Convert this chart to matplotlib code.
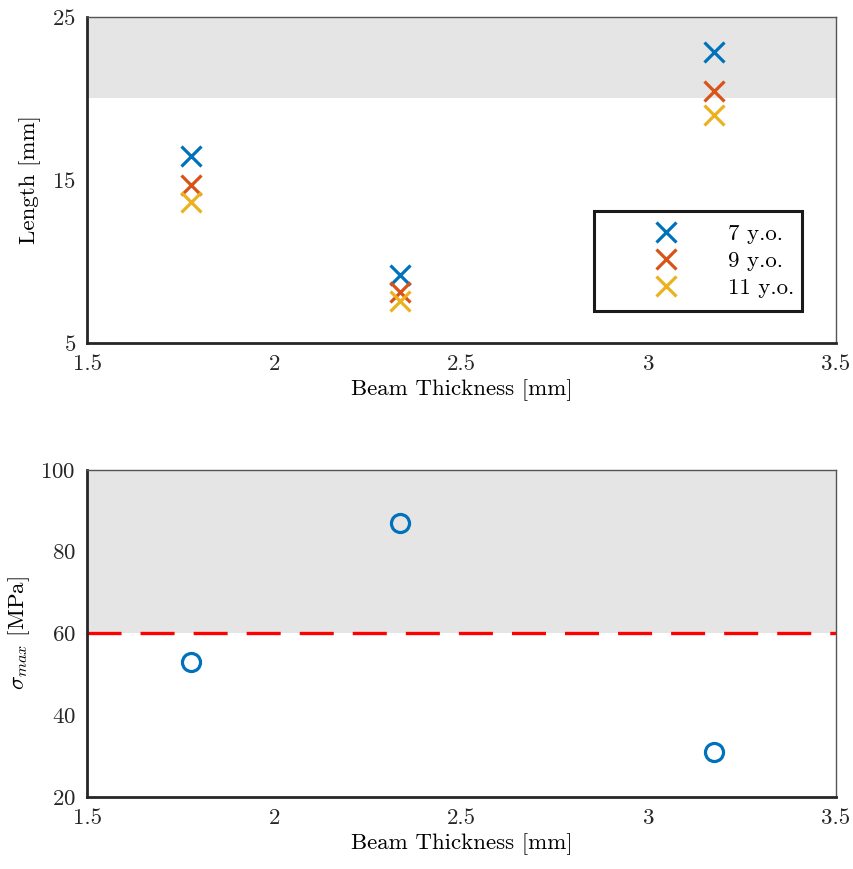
import matplotlib
matplotlib.use("Agg")
import matplotlib.pyplot as plt

plt.rcParams['font.family'] = ['cmr10', 'DejaVu Serif']
plt.rcParams['mathtext.fontset'] = 'cm'
plt.rcParams['axes.formatter.use_mathtext'] = True
plt.rcParams['font.size'] = 16.5
plt.rcParams['lines.scale_dashes'] = False

# data
thickness = [1.778, 2.337, 3.175]
length_7 = [16.5, 9.2, 22.85]
length_9 = [14.7, 8.15, 20.45]
length_11 = [13.65, 7.6, 19.0]
ages = ["7 y.o.", "9 y.o.", "11 y.o."]
sigma_max = [53, 87, 31]
sigma_limit = 60
length_limit = 20

colors = ["#0072BD", "#D95319", "#EDB120"]
gray = "#E5E5E5"

fig = plt.figure(figsize=(8.54, 8.69), dpi=100)
ax1 = fig.add_axes([0.1019, 0.6053, 0.877, 0.3752])
ax2 = fig.add_axes([0.1019, 0.0829, 0.877, 0.3763])


def style(ax):
    for side in ["top", "right"]:
        ax.spines[side].set_linewidth(1.0)
        ax.spines[side].set_color("#555555")
    for side in ["left", "bottom"]:
        ax.spines[side].set_linewidth(2.0)
        ax.spines[side].set_color("#262626")
    ax.tick_params(length=0, pad=8, colors="#262626")
    ax.set_xlim(1.5, 3.5)
    ax.set_xticks([1.5, 2, 2.5, 3, 3.5])
    ax.set_xticklabels(["1.5", "2", "2.5", "3", "3.5"])


# top: lengths
ax1.axhspan(length_limit, 25, color=gray, lw=0, zorder=0)
for vals, c, lab in zip([length_7, length_9, length_11], colors, ages):
    ax1.plot(thickness, vals, ls="none", marker="x", ms=14, mew=2.3,
             color=c, label=lab)
ax1.set_ylim(5, 25)
ax1.set_yticks([5, 15, 25])
style(ax1)
ax1.set_xlabel("Beam Thickness [mm]", labelpad=4)
ax1.set_ylabel("Length [mm]", labelpad=8)
leg = ax1.legend(loc="lower left", bbox_to_anchor=(0.677, 0.098, 0.278, 0.31),
                 mode="expand", fancybox=False, framealpha=1, borderpad=0.58,
                 handlelength=5.1, handletextpad=0.15, labelspacing=0.3,
                 borderaxespad=0)
leg.get_frame().set_edgecolor("#1a1a1a")
leg.get_frame().set_linewidth(2.2)

# bottom: max stress
ax2.axhspan(sigma_limit, 100, color=gray, lw=0, zorder=0)
ax2.axhline(sigma_limit, color="#FF0000", lw=2.4, dashes=(24.5, 13.7), zorder=2)
ax2.plot(thickness, sigma_max, ls="none", marker="o", ms=13, mew=2.3,
         mfc="none", color=colors[0], zorder=3)
ax2.set_ylim(20, 100)
ax2.set_yticks([20, 40, 60, 80, 100])
style(ax2)
ax2.set_xlabel("Beam Thickness [mm]", labelpad=4)
ax2.set_ylabel(r"$\sigma_{max}$ [MPa]", labelpad=6)

fig.savefig("out.png", dpi=100)
